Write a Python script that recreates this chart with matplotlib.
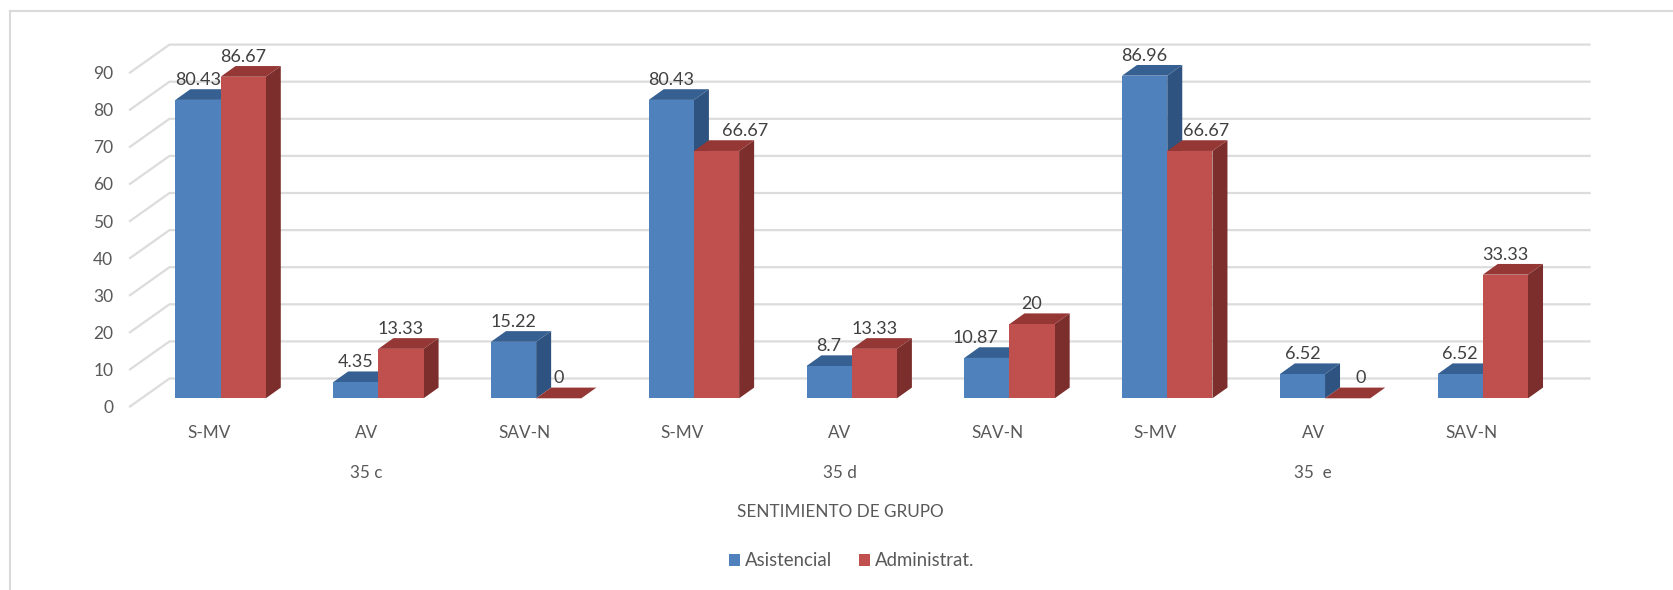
import matplotlib
matplotlib.use("Agg")
import matplotlib.pyplot as plt
from matplotlib.patches import Polygon

plt.rcParams['font.family'] = ['Lato', 'DejaVu Sans']

categories = ["S-MV", "AV", "SAV-N", "S-MV", "AV", "SAV-N", "S-MV", "AV", "SAV-N"]
groups = ["35 c", "35 d", "35  e"]
group_positions = [1, 4, 7]
asistencial = [80.43, 4.35, 15.22, 80.43, 8.7, 10.87, 86.96, 6.52, 6.52]
administrat = [86.67, 13.33, 0, 66.67, 13.33, 20, 66.67, 0, 33.33]
asistencial_labels = ["80.43", "4.35", "15.22", "80.43", "8.7", "10.87", "86.96", "6.52", "6.52"]
administrat_labels = ["86.67", "13.33", "0", "66.67", "13.33", "20", "66.67", "0", "33.33"]
yticks = list(range(0, 100, 10))

W, H = 1673, 590
L_PX, R_PX, T_PX, B_PX = 130, 1550, 72.6, 406.5
PX_X = (R_PX - L_PX) / 9.0      # pixels per category
PX_Y = (B_PX - T_PX) / 90.0     # pixels per value unit

WALL_DX, WALL_DY = 39.5 / PX_X, 28.0 / PX_Y
INSET_DX, INSET_DY = 11.7 / PX_X, 8.2 / PX_Y
DEPTH_DX, DEPTH_DY = 15.0 / PX_X, 10.7 / PX_Y
BAR_W = 45.2 / PX_X

# horizontal shift of individual data labels, in pixels
nudge_blue = {5: -11}
nudge_red = {3: 29, 6: 16, 7: 13}

C = {
    "blue": ("#4f81bd", "#376092", "#2f5380"),
    "red": ("#c0504d", "#953735", "#7b2e2c"),
}
GRID = "#dcdcdc"

fig = plt.figure(figsize=(W / 100, H / 100), dpi=100, facecolor="white")
ax = fig.add_axes([L_PX / W, 1 - B_PX / H, (R_PX - L_PX) / W, (B_PX - T_PX) / H])
ax.set_xlim(-0.5, 8.5)
ax.set_ylim(0, 90)
ax.patch.set_alpha(0)
for s in ax.spines.values():
    s.set_visible(False)

# chart frame
for xs, ys in [((9.5, 9.5), (11, 590)), ((9.5, 1673), (11, 11))]:
    fig.add_artist(plt.Line2D([x / W for x in xs], [1 - y / H for y in ys],
                              color="#dadada", lw=1.5))

# walls
for v in yticks:
    ax.plot([-0.5, -0.5 + WALL_DX, 8.5 + WALL_DX], [v, v + WALL_DY, v + WALL_DY],
            color=GRID, lw=1.6, clip_on=False, zorder=1, solid_joinstyle="miter")

z = 2
for i in range(len(categories)):
    x0 = i + INSET_DX - BAR_W
    for xl, val, lab, key, name, nudge in (
        (x0, asistencial[i], asistencial_labels[i], "blue", "Asistencial", nudge_blue.get(i, 0)),
        (x0 + BAR_W, administrat[i], administrat_labels[i], "red", "Administrat.", nudge_red.get(i, 0)),
    ):
        front, top, side = C[key]
        yb, yt = INSET_DY, INSET_DY + val
        xr = xl + BAR_W
        ax.add_patch(Polygon([(xr, yb), (xr + DEPTH_DX, yb + DEPTH_DY),
                              (xr + DEPTH_DX, yt + DEPTH_DY), (xr, yt)],
                             closed=True, fc=side, ec="none", zorder=z, clip_on=False))
        ax.add_patch(Polygon([(xl, yt), (xl + DEPTH_DX, yt + DEPTH_DY),
                              (xr + DEPTH_DX, yt + DEPTH_DY), (xr, yt)],
                             closed=True, fc=top, ec="none", zorder=z, clip_on=False))
        ax.bar(xl, val, width=BAR_W, bottom=yb, align="edge", color=front, ec="none",
               zorder=z + 0.5, clip_on=False,
               label=name if i == 0 else None)
        ax.annotate(lab, (xl + BAR_W / 2, yt), xytext=(nudge * 0.72, 20 * 0.72),
                    textcoords="offset points", ha="center", va="center",
                    fontsize=13, color="#404040", zorder=50, annotation_clip=False)
        z += 1

ax.set_yticks(yticks)
ax.set_yticklabels([str(v) for v in yticks])
ax.set_xticks(range(len(categories)))
ax.set_xticklabels(categories)
ax.tick_params(axis="y", length=0, pad=12, labelsize=12.5, labelcolor="#595959")
ax.tick_params(axis="x", length=0, pad=13, labelsize=12.3, labelcolor="#595959")

tr = ax.get_xaxis_transform()
for g, p in zip(groups, group_positions):
    ax.text(p, 1 - (472.5 - T_PX) / (B_PX - T_PX), g, transform=tr, ha="center", va="center",
            fontsize=12.3, color="#595959", clip_on=False)

fig.text(840 / W, 1 - 512 / H, "SENTIMIENTO DE GRUPO", ha="center", va="center",
         fontsize=12.3, color="#595959")

h, l = ax.get_legend_handles_labels()
leg = fig.legend(h, l, loc="center", bbox_to_anchor=(851.5 / W, 1 - 561 / H), ncols=2,
                 frameon=False, fontsize=13.4, labelcolor="#595959", handlelength=0.6,
                 handleheight=0.6, handletextpad=0.27, columnspacing=1.45)

fig.savefig("out.png", dpi=100, facecolor="white")
